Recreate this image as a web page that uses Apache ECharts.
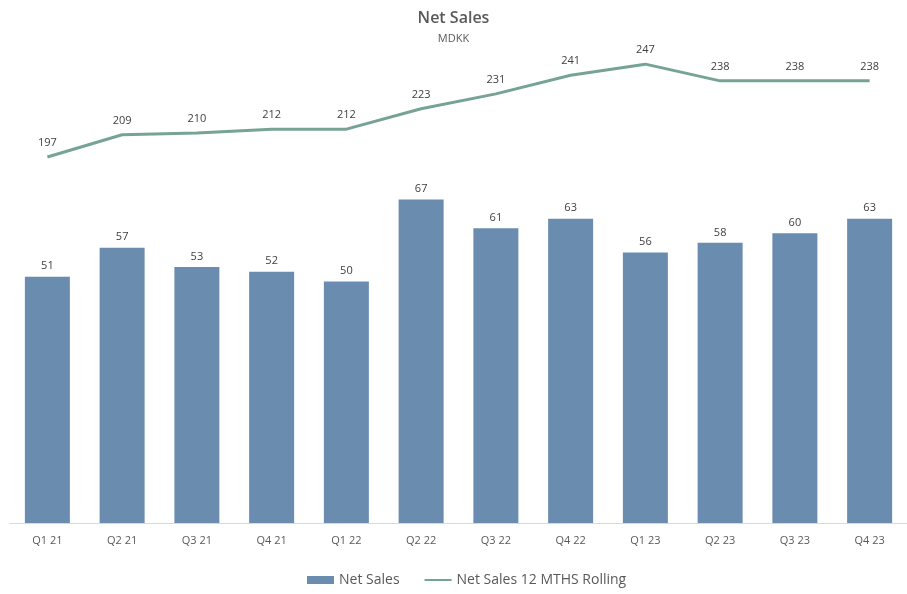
<!DOCTYPE html>
<html><head><meta charset="utf-8">
<script src="https://cdn.jsdelivr.net/npm/echarts@6/dist/echarts.min.js"></script>
<style>html,body{margin:0;padding:0;background:#fff;}#c{width:907px;height:594px;}</style>
</head><body><div id="c"></div>
<script>
const categories = ['Q1 21','Q2 21','Q3 21','Q4 21','Q1 22','Q2 22','Q3 22','Q4 22','Q1 23','Q2 23','Q3 23','Q4 23'];
const netSales = [51,57,53,52,50,67,61,63,56,58,60,63];
const rolling = [197,209,210,212,212,223,231,241,247,238,238,238];

const chart = echarts.init(document.getElementById('c'));
const font = '"Open Sans", "Noto Sans", sans-serif';
chart.setOption({
  animation: false,
  textStyle: {fontFamily: font},
  title: {
    text: 'Net Sales', subtext: 'MDKK', left: 'center', top: 5, itemGap: 7,
    textStyle: {fontSize: 16, color: '#595959', fontWeight: 600, fontFamily: font},
    subtextStyle: {fontSize: 11, color: '#595959', fontFamily: font}
  },
  legend: {
    bottom: 2, left: 302, itemGap: 24, itemWidth: 27, itemHeight: 8,
    textStyle: {fontSize: 14, color: '#595959', fontFamily: font},
    data: [
      {name: 'Net Sales', icon: 'rect'},
      {name: 'Net Sales 12 MTHS Rolling', itemStyle: {opacity: 0}}
    ]
  },
  grid: {left: 10, top: 40, width: 908, height: 483},
  xAxis: {
    type: 'category', data: categories,
    axisLine: {lineStyle: {color: '#d9d9d9'}},
    axisTick: {show: false},
    axisLabel: {color: '#595959', fontSize: 11, margin: 12}
  },
  yAxis: [
    {type: 'value', min: 0, max: 100, show: false, splitLine: {show: false}},
    {type: 'value', min: 0, max: 260, show: false, splitLine: {show: false}}
  ],
  series: [
    {
      name: 'Net Sales', type: 'bar', data: netSales, barWidth: 45, yAxisIndex: 0,
      itemStyle: {color: '#6a8caf'},
      label: {show: true, position: 'top', distance: 5, color: '#404040', fontSize: 11}
    },
    {
      name: 'Net Sales 12 MTHS Rolling', type: 'line', data: rolling, yAxisIndex: 1,
      symbol: 'none', lineStyle: {color: '#76a394', width: 3}, itemStyle: {color: '#76a394'}
    },
    {
      name: 'rollingLabels', type: 'scatter', data: rolling, yAxisIndex: 1,
      symbolSize: 1, itemStyle: {color: 'rgba(0,0,0,0)', opacity: 1}, silent: true,
      label: {show: true, position: 'top', distance: 8, color: '#404040', opacity: 1, fontSize: 11}
    }
  ]
});
</script></body></html>
